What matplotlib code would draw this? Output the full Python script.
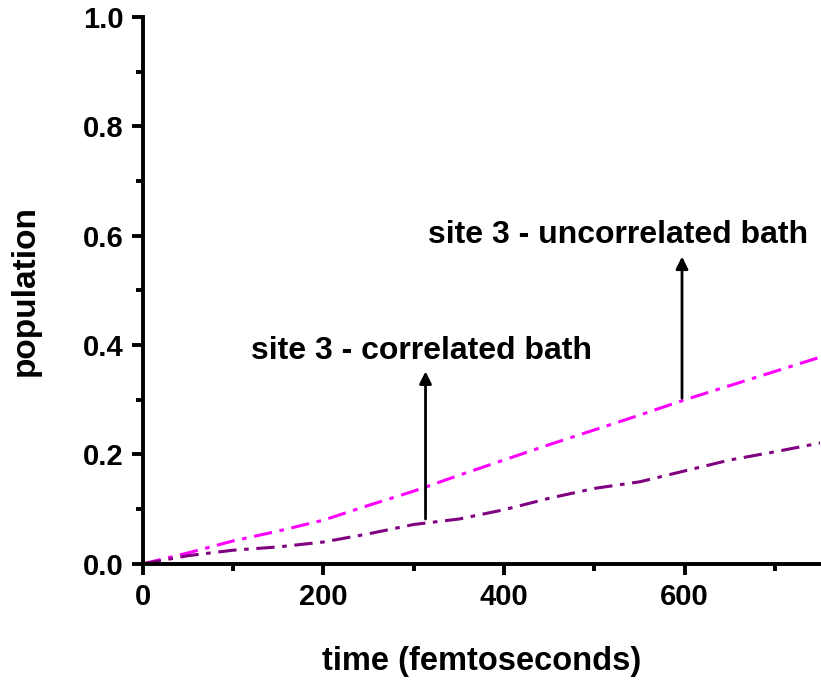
import numpy as np
import matplotlib
matplotlib.use("Agg")
import matplotlib.pyplot as plt
from matplotlib.ticker import MultipleLocator

# data
time_fs = [0, 50, 100, 150, 200, 250, 300, 350, 400, 450, 500, 550, 600, 650, 700, 750]
pop_uncorrelated = [0, 0.020, 0.042, 0.060, 0.080, 0.107, 0.133, 0.162, 0.190,
                    0.218, 0.245, 0.272, 0.300, 0.326, 0.352, 0.378]
pop_correlated = [0, 0.015, 0.025, 0.031, 0.040, 0.055, 0.072, 0.082, 0.099,
                  0.120, 0.138, 0.150, 0.170, 0.190, 0.205, 0.221]

plt.rcParams['font.family'] = ['Liberation Sans', 'DejaVu Sans']
plt.rcParams['font.weight'] = 'bold'

fig = plt.figure(figsize=(8.21, 6.81), dpi=100)
ax = fig.add_axes([0.174, 0.172, 0.825, 0.803])

ax.plot(time_fs, pop_uncorrelated, color='#ff00ff', lw=2.2, ls=(0, (6, 2.5, 1.5, 2.5)))
ax.plot(time_fs, pop_correlated, color='#800080', lw=2.2, ls=(0, (6, 2.5, 1.5, 2.5)))

ax.set_xlim(0, 750)
ax.set_ylim(0, 1.0)
ax.xaxis.set_major_locator(MultipleLocator(200))
ax.xaxis.set_minor_locator(MultipleLocator(100))
ax.yaxis.set_major_locator(MultipleLocator(0.2))
ax.yaxis.set_minor_locator(MultipleLocator(0.1))
ax.yaxis.set_major_formatter(matplotlib.ticker.FormatStrFormatter('%.1f'))

for s in ['top', 'right']:
    ax.spines[s].set_visible(False)
for s in ['left', 'bottom']:
    ax.spines[s].set_linewidth(2.8)
ax.tick_params(which='major', direction='out', length=8, width=2.8, labelsize=21, pad=6)
ax.tick_params(which='minor', direction='out', length=5, width=2.8)

ax.set_xlabel('time (femtoseconds)', fontsize=23.5, fontweight='bold', labelpad=25)
ax.set_ylabel('population', fontsize=24, fontweight='bold', labelpad=30)

# annotations
arrow = dict(arrowstyle='-|>', color='black', lw=2.0, mutation_scale=18)
ax.annotate('', xy=(313, 0.357), xytext=(313, 0.077), arrowprops=arrow)
ax.annotate('', xy=(597, 0.567), xytext=(597, 0.298), arrowprops=arrow)
ax.text(309, 0.389, 'site 3 - correlated bath', fontsize=23, fontweight='bold',
        ha='center', va='center')
ax.text(526, 0.601, 'site 3 - uncorrelated bath', fontsize=23, fontweight='bold',
        ha='center', va='center')

fig.savefig('out.png', dpi=100)
